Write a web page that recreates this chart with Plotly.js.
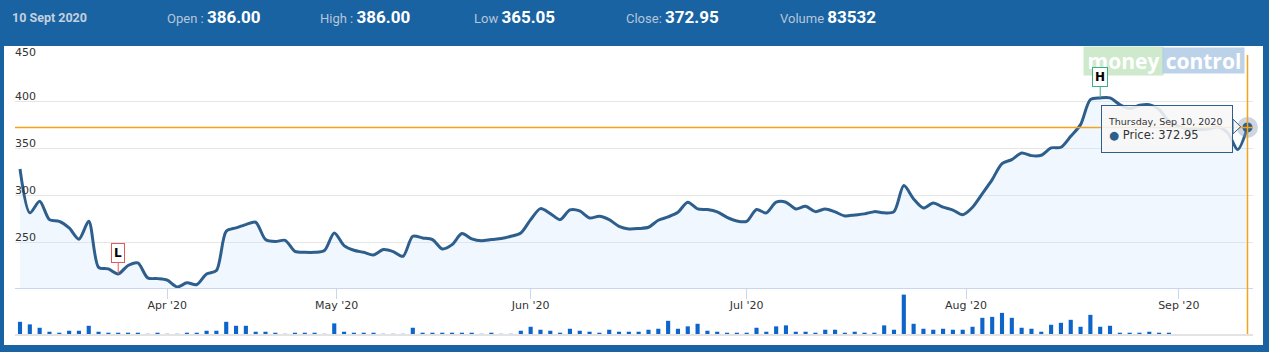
<!DOCTYPE html>
<html>
<head>
<meta charset="utf-8">
<script src="https://cdn.plot.ly/plotly-3.0.1.min.js"></script>
<style>
  html, body { margin:0; padding:0; }
  body { width:1269px; height:352px; background:#1a63a3; position:relative; overflow:hidden; font-family: Roboto, "DejaVu Sans", sans-serif; }
  #hdr { position:absolute; left:0; top:0; width:1269px; height:46px; }
  .grp { position:absolute; top:4px; line-height:26px; white-space:nowrap; }
  .dt { color:#c3d0de; font-weight:700; font-size:12.5px; }
  .lbl { color:#b6c6d9; font-size:13px; }
  .val { color:#ffffff; font-weight:700; font-size:17px; }
  #chart { position:absolute; left:4px; top:46px; width:1259px; height:299px; background:#ffffff; }
</style>
</head>
<body>
<div id="hdr">
  <div class="grp" style="left:12px"><span class="dt">10 Sept 2020</span></div>
  <div class="grp" style="left:167px"><span class="lbl">Open : </span><span class="val">386.00</span></div>
  <div class="grp" style="left:320px"><span class="lbl">High : </span><span class="val">386.00</span></div>
  <div class="grp" style="left:474px"><span class="lbl">Low </span><span class="val">365.05</span></div>
  <div class="grp" style="left:626px"><span class="lbl">Close: </span><span class="val">372.95</span></div>
  <div class="grp" style="left:780px"><span class="lbl">Volume </span><span class="val">83532</span></div>
</div>
<div id="chart"></div>
<script>
// ---- data ----
const dates = [
  "2020-03-11","2020-03-12","2020-03-13","2020-03-16","2020-03-17","2020-03-18","2020-03-19","2020-03-20","2020-03-23","2020-03-24","2020-03-25","2020-03-26","2020-03-27","2020-03-30","2020-03-31",
  "2020-04-01","2020-04-03","2020-04-07","2020-04-08","2020-04-09","2020-04-13","2020-04-15","2020-04-16","2020-04-17","2020-04-20","2020-04-21","2020-04-22","2020-04-23","2020-04-24","2020-04-27","2020-04-28","2020-04-29","2020-04-30",
  "2020-05-04","2020-05-05","2020-05-06","2020-05-07","2020-05-08","2020-05-11","2020-05-12","2020-05-13","2020-05-14","2020-05-15","2020-05-18","2020-05-19","2020-05-20","2020-05-21","2020-05-22","2020-05-26","2020-05-27","2020-05-28","2020-05-29",
  "2020-06-01","2020-06-02","2020-06-03","2020-06-04","2020-06-05","2020-06-08","2020-06-09","2020-06-10","2020-06-11","2020-06-12","2020-06-15","2020-06-16","2020-06-17","2020-06-18","2020-06-19","2020-06-22","2020-06-23","2020-06-24","2020-06-25","2020-06-26","2020-06-29","2020-06-30",
  "2020-07-01","2020-07-02","2020-07-03","2020-07-06","2020-07-07","2020-07-08","2020-07-09","2020-07-10","2020-07-13","2020-07-14","2020-07-15","2020-07-16","2020-07-17","2020-07-20","2020-07-21","2020-07-22","2020-07-23","2020-07-24","2020-07-27","2020-07-28","2020-07-29","2020-07-30","2020-07-31",
  "2020-08-03","2020-08-04","2020-08-05","2020-08-06","2020-08-07","2020-08-10","2020-08-11","2020-08-12","2020-08-13","2020-08-14","2020-08-17","2020-08-18","2020-08-19","2020-08-20","2020-08-21","2020-08-24","2020-08-25","2020-08-26","2020-08-27","2020-08-28","2020-08-31",
  "2020-09-01","2020-09-02","2020-09-03","2020-09-04","2020-09-07","2020-09-08","2020-09-09","2020-09-10"
];
const prices = [
  328.7,282.0,294.3,274.8,273.0,266.0,254.0,273.0,224.0,222.3,217.0,226.0,228.7,212.8,212.0,
  210.3,203.2,207.5,205.7,217.0,220.6,262.4,266.0,269.5,272.0,253.6,251.4,252.8,241.0,240.0,240.0,241.9,260.6,
  247.2,242.2,240.0,237.2,242.9,240.8,235.8,257.1,255.3,253.6,243.6,248.2,260.0,254.3,252.2,253.6,254.6,257.1,260.6,
  274.8,286.5,281.2,274.8,285.1,284.0,276.6,278.4,274.8,267.7,264.9,265.3,266.7,274.1,277.7,282.6,293.3,286.2,285.5,283.0,277.3,273.4,
  273.0,285.5,282.0,293.3,293.3,286.2,289.0,283.3,286.2,283.0,278.7,279.8,280.9,283.3,282.0,283.3,311.0,296.8,287.2,292.6,288.0,285.0,280.0,
  288.0,302.5,317.4,334.4,338.7,345.7,342.9,343.3,351.1,351.8,363.5,375.9,402.5,404.3,404.3,397.2,393.0,396.5,397.2,392.0,379.4,
  374.0,371.3,370.6,371.3,373.4,367.0,349.3,372.95
];
const volumes = [
  738000,582000,378000,138000,78000,198000,198000,498000,138000,78000,78000,78000,78000,12000,78000,
  12000,12000,78000,78000,198000,198000,738000,498000,498000,138000,138000,78000,12000,78000,78000,78000,12000,642000,
  138000,78000,78000,78000,12000,12000,12000,378000,78000,78000,78000,78000,78000,78000,12000,78000,12000,12000,198000,
  438000,258000,198000,78000,318000,198000,138000,78000,258000,138000,138000,138000,258000,318000,798000,318000,462000,618000,198000,138000,78000,78000,
  78000,378000,138000,462000,522000,138000,138000,78000,258000,258000,78000,138000,78000,78000,522000,258000,2382000,618000,318000,258000,318000,258000,258000,
  438000,978000,1038000,1278000,978000,378000,318000,138000,558000,678000,858000,438000,1158000,438000,498000,78000,78000,78000,138000,78000,78000
];
const monthStarts = ["2020-04-01","2020-05-01","2020-06-01","2020-07-01","2020-08-01","2020-09-01"];
const monthLabels = ["Apr '20","May '20","Jun '20","Jul '20","Aug '20","Sep '20"];
const lastClose = 372.95;
const yTicks = [250, 300, 350, 400, 450];
const tooltipDate = "Thursday, Sep 10, 2020";

// ordinal (trading-day) axis
const idx = dates.map((d, i) => i);
function ordinalPos(ds) {
  const t = Date.parse(ds);
  for (let i = 0; i < dates.length; i++) {
    const ti = Date.parse(dates[i]);
    if (ti === t) return i;
    if (ti > t) { const tp = Date.parse(dates[i - 1]); return i - 1 + (t - tp) / (ti - tp); }
  }
  return dates.length - 1;
}
const tickPos = monthStarts.map(ordinalPos);
const hiIdx = prices.indexOf(Math.max(...prices));
const loIdx = 10;
const lastIdx = prices.length - 1;

const font = "DejaVu Sans, Verdana, sans-serif";
const lineCol = "#2d5e8c";
const orange = "#f5a21c";

const traces = [
  { x: idx, y: prices, type: "scatter", mode: "lines", xaxis: "x", yaxis: "y",
    line: { color: lineCol, width: 3, shape: "spline", smoothing: 0.8 },
    fill: "tozeroy", fillcolor: "rgba(200,225,250,0.28)", hoverinfo: "skip" },
  { x: idx.slice(0, volumes.length), y: volumes, type: "bar", xaxis: "x2", yaxis: "y2",
    marker: { color: "#0d65c9" }, width: 0.42, hoverinfo: "skip" },
  { x: [lastIdx], y: [prices[lastIdx]], type: "scatter", mode: "markers", xaxis: "x", yaxis: "y",
    marker: { size: 21, color: "rgba(120,145,175,0.38)" }, hoverinfo: "skip", cliponaxis: false },
  { x: [lastIdx], y: [prices[lastIdx]], type: "scatter", mode: "markers", xaxis: "x", yaxis: "y",
    marker: { size: 10, color: lineCol }, hoverinfo: "skip", cliponaxis: false }
];

const xr = [-0.51, 125.56];
const yTop = Math.max(...yTicks);
const yLabelAnns = yTicks.map(v => ({
  x: 0, xref: "paper", xanchor: "left", xshift: -1,
  y: v, yref: "y", yanchor: "middle", yshift: v === yTop ? 3 : 5,
  text: String(v), showarrow: false, borderpad: 0,
  font: { family: font, size: 11, color: "#333333" }
}));

const layout = {
  width: 1259, height: 299,
  margin: { l: 11, r: 10, t: 9, b: 11 },
  paper_bgcolor: "#ffffff", plot_bgcolor: "#ffffff",
  showlegend: false, hovermode: false,
  font: { family: font, size: 11, color: "#333333" },
  xaxis: { range: xr, domain: [0, 1], anchor: "y", tickvals: tickPos, ticktext: monthLabels,
    ticks: "outside", ticklen: 10, tickcolor: "#ccd6eb", tickwidth: 1, ticklabelstandoff: -3,
    showline: true, linecolor: "#ccd6eb", linewidth: 1, showgrid: false, zeroline: false,
    tickfont: { family: font, size: 11, color: "#333333" } },
  yaxis: { range: [201.7, 450], domain: [0.1638, 1], tickvals: yTicks, showticklabels: false, ticks: "",
    gridcolor: "#e6e6e6", gridwidth: 1, showline: false, zeroline: false },
  xaxis2: { range: xr, domain: [0, 1], anchor: "y2", showticklabels: false, ticks: "",
    showline: true, linecolor: "#e3e3e3", linewidth: 2, showgrid: false, zeroline: false },
  yaxis2: { range: [0, 2420000], domain: [0, 0.1434], anchor: "x2", showticklabels: false,
    showgrid: false, zeroline: false, showline: false, ticks: "" },
  shapes: [
    { type: "line", xref: "paper", x0: 0, x1: 1, yref: "y", y0: lastClose, y1: lastClose,
      line: { color: orange, width: 1.5 }, layer: "above" },
    { type: "line", xref: "x", x0: lastIdx, x1: lastIdx, yref: "paper", y0: 0, y1: 1,
      line: { color: orange, width: 1.5 }, layer: "above" },
    { type: "path", xref: "x", yref: "y",
      path: "M 123.52 381.8 L 124.3 373.6 L 123.52 366.1 Z",
      fillcolor: "rgba(247,247,247,0.9)", line: { color: lineCol, width: 1 }, layer: "above" }
  ],
  annotations: yLabelAnns.concat([
    { x: 112.37, y: 0.9785, xref: "x", yref: "paper", xanchor: "center", yanchor: "middle",
      text: "<b>money</b>", showarrow: false,
      width: 79, height: 28, borderpad: 0, bgcolor: "rgba(190,225,185,0.75)",
      font: { family: "Open Sans, Roboto, sans-serif", size: 21, color: "#ffffff" } },
    { x: 120.52, y: 0.9785, xref: "x", yref: "paper", xanchor: "center", yanchor: "middle",
      text: "<b>control</b>", showarrow: false,
      width: 81, height: 25, borderpad: 0, bgcolor: "rgba(165,195,225,0.75)",
      font: { family: "Open Sans, Roboto, sans-serif", size: 21, color: "#ffffff" } },
    { x: hiIdx, y: prices[hiIdx], xref: "x", yref: "y", text: "<b>H</b>", showarrow: true,
      arrowhead: 0, arrowwidth: 1, arrowcolor: "#3aae86", ax: 0, ay: -21,
      bgcolor: "#ffffff", bordercolor: "#3aae86", borderwidth: 1, borderpad: 2,
      font: { family: font, size: 12, color: "#000000" } },
    { x: loIdx, y: prices[loIdx], xref: "x", yref: "y", text: "<b>L</b>", showarrow: true,
      arrowhead: 0, arrowwidth: 1, arrowcolor: "#e35a5a", ax: 0, ay: -21,
      bgcolor: "#ffffff", bordercolor: "#e35a5a", borderwidth: 1, borderpad: 2,
      font: { family: font, size: 12, color: "#000000" } },
    { x: 123.5, y: 396.3, xref: "x", yref: "y", xanchor: "right", yanchor: "top",
      text: "<span style='font-size:9.5px'>" + tooltipDate + "</span><br><span style='color:" + lineCol + "'>●</span> Price: " + lastClose.toFixed(2),
      showarrow: false, align: "left", valign: "middle", width: 118, height: 34, borderpad: 6,
      bgcolor: "rgba(247,247,247,0.88)", bordercolor: lineCol, borderwidth: 1,
      font: { family: font, size: 11.5, color: "#333333" } }
  ])
};

Plotly.newPlot("chart", traces, layout, { staticPlot: true, displayModeBar: false });
</script>
</body>
</html>
